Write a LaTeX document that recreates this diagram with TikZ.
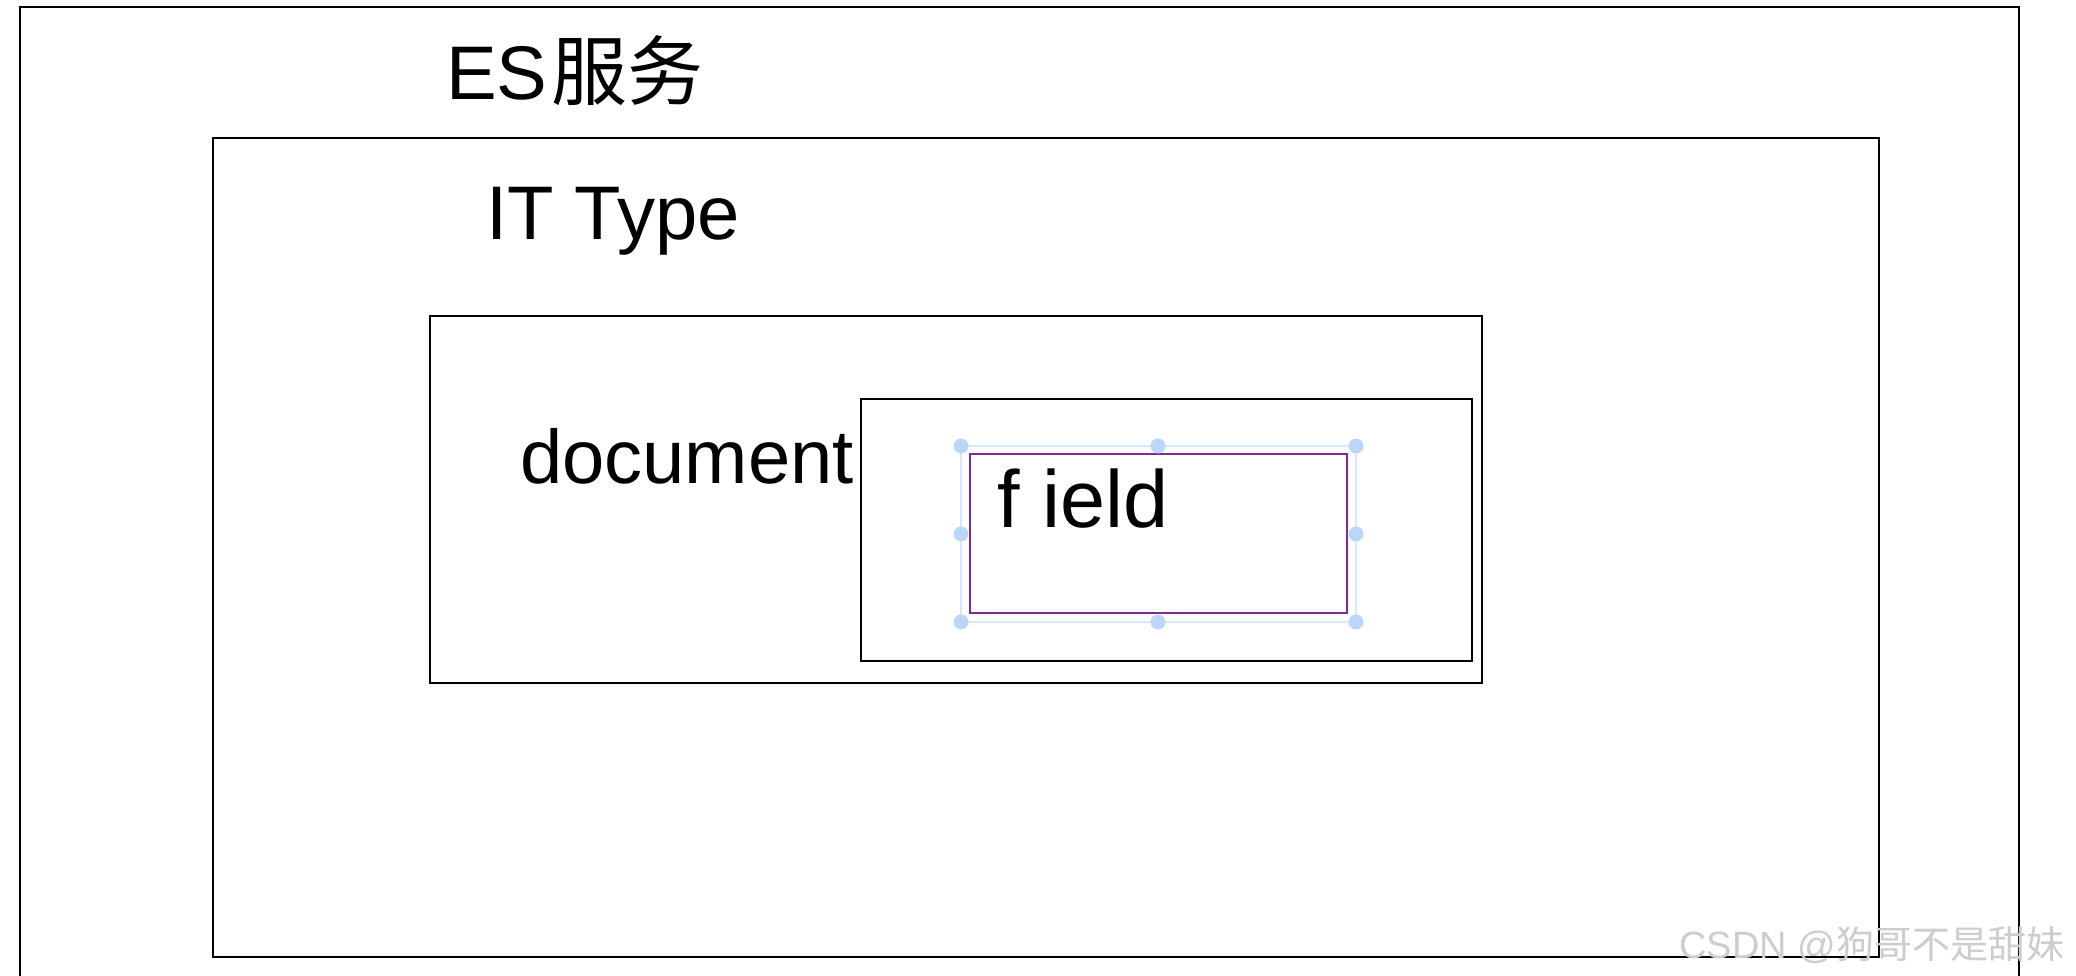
\documentclass[tikz,border=0pt]{standalone}
\usepackage{fontspec}
\setmainfont{Liberation Sans}
\newfontfamily\cjk{Noto Sans CJK SC}
\definecolor{selpurple}{RGB}{125,45,145}
\definecolor{hdlline}{RGB}{218,232,251}
\definecolor{hdldot}{RGB}{187,214,248}
\definecolor{wmgray}{RGB}{205,205,205}
\begin{document}
\begin{tikzpicture}[x=1pt,y=-1pt,
  frame/.style={draw=black,line width=2pt},
  sel/.style={draw=selpurple,line width=1.2pt},
  hdl/.style={draw=hdlline,line width=2.2pt},
  dotc/.style={fill=hdldot,draw=none},
  lbl/.style={anchor=base west,inner sep=0pt,font=\fontsize{76}{80}\selectfont},
  wm/.style={anchor=base west,inner sep=0pt,text=wmgray,font=\fontsize{38}{40}\selectfont}]
\useasboundingbox (0,0) rectangle (2076,976);
\clip (0,0) rectangle (2076,976);
\fill[white] (0,0) rectangle (2076,976);
% boxes
\draw[frame] (20,7) rectangle (2019,1010);
\draw[frame] (213,138) rectangle (1879,957);
\draw[frame] (430,316) rectangle (1482,683);
\draw[frame] (861,399) rectangle (1472,661);
% selection handles
\draw[hdl] (961,446) rectangle (1356,622);
\draw[sel] (970,454) rectangle (1347,613);
\foreach \px/\py in {961/446,1158/446,1356/446,961/534,1356/534,961/622,1158/622,1356/622}
  \fill[dotc] (\px,\py) circle (7.5);
% labels
\node[lbl] (es) at (446,100) {ES\hspace{4pt}{\cjk 服务}};
\node[lbl] (it) at (486,240) {IT Type};
\node[lbl] (doc) at (520,483) {document};
\node[lbl,font=\fontsize{81}{85}\selectfont] (field) at (997,527) {f ield};
\node[wm] (mark) at (1679,958) {CSDN @{\cjk 狗哥不是甜妹}};
\end{tikzpicture}
\end{document}
